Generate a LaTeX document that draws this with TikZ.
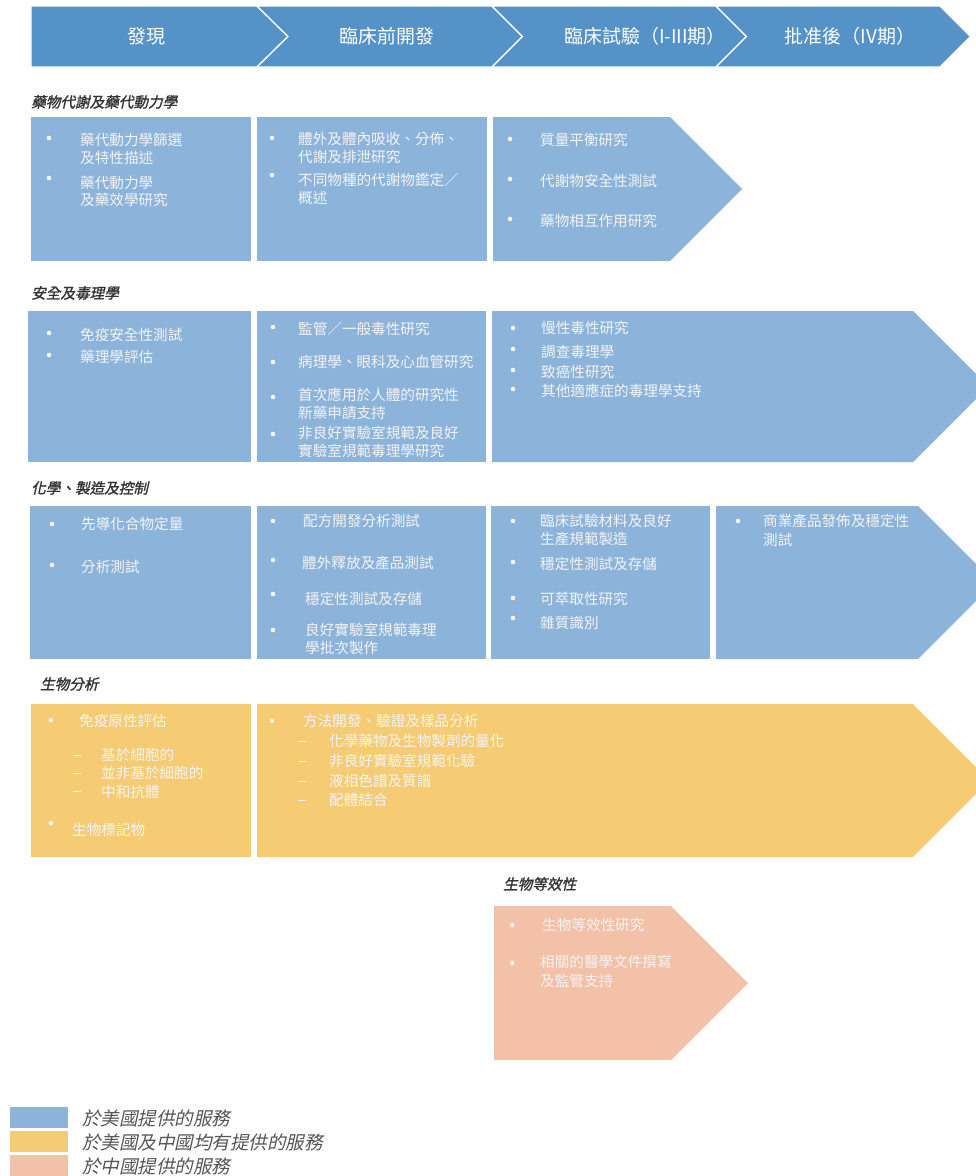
\documentclass[tikz,border=0pt]{standalone}
\usepackage{fontspec}
\newfontfamily\cjk{Noto Sans CJK TC}
\newfontfamily\cjkbi[FakeBold=1.4,FakeSlant=0.22]{Noto Sans CJK TC}
\newfontfamily\cjki[FakeSlant=0.22]{Noto Sans CJK TC}
\definecolor{hdrblue}{HTML}{5592C7}
\definecolor{boxblue}{HTML}{8CB4DA}
\definecolor{boxyel}{HTML}{F5CC73}
\definecolor{boxpink}{HTML}{F3C1A7}
\definecolor{txtw}{HTML}{F4F4F4}
\definecolor{ttl}{HTML}{333333}
\definecolor{lgd}{HTML}{555555}
\tikzset{
 hdr/.style={fill=hdrblue, draw=white, line width=1.3pt, line join=miter},
 txt/.style={inner sep=0pt, anchor=west, text=txtw, font=\cjk\fontsize{14.6}{16}\selectfont},
 htxt/.style={inner sep=0pt, text=white, font=\cjk\fontsize{19}{21}\selectfont},
 ttltxt/.style={inner sep=0pt, anchor=west, text=ttl, font=\cjkbi\fontsize{14.6}{16}\selectfont},
 lgdtxt/.style={inner sep=0pt, anchor=west, text=lgd, font=\cjki\fontsize{18.5}{20}\selectfont},
}
\newcommand\bul[2]{\fill[txtw] (#1,#2) circle (2.3);}
\newcommand\dsh[2]{\draw[txtw, line width=0.8pt] (#1-4,#2) -- (#1+4,#2);}
\newcommand\tl[4]{\node[txt] (#1) at (#2,#3) {#4};}
\begin{document}
\begin{tikzpicture}[x=1pt,y=-1pt]
\useasboundingbox (0,0) rectangle (976,1176);
\begin{scope}
\clip (0,0) rectangle (976,1176);
% header
\filldraw[hdr] (31,6) -- (257,6) -- (288,36.5) -- (257,67) -- (31,67) -- cycle;
\filldraw[hdr] (257,6) -- (492,6) -- (522.5,36.5) -- (492,67) -- (257,67) -- (288,36.5) -- cycle;
\filldraw[hdr] (492,6) -- (716,6) -- (746.5,36.5) -- (716,67) -- (492,67) -- (522.5,36.5) -- cycle;
\filldraw[hdr] (716,6) -- (940,6) -- (970.5,36.5) -- (940,67) -- (716,67) -- (746.5,36.5) -- cycle;
\node[htxt] (h1) at (146,36.5) {發現};
\node[htxt] (h2) at (387,36.5) {臨床前開發};
\node[htxt] (h3) at (645,36.5) {臨床試驗（I-III期）};
\node[htxt] (h4) at (850,36.5) {批准後（IV期）};

% section titles
\node[ttltxt] (s1) at (31,102) {藥物代謝及藥代動力學};
\node[ttltxt] (s2) at (31,293) {安全及毒理學};
\node[ttltxt] (s3) at (31,488) {化學、製造及控制};
\node[ttltxt] (s4) at (40,684) {生物分析};
\node[ttltxt] (s5) at (503,884) {生物等效性};

% row 1
\fill[boxblue] (31,117) rectangle (251,261);
\fill[boxblue] (257,117) rectangle (487,261);
\fill[boxblue] (493,117) -- (670,117) -- (742,189) -- (670,261) -- (493,261) -- cycle;
\bul{49}{138}\tl{a1}{80}{140}{藥代動力學篩選}\tl{a2}{80}{158}{及特性描述}
\bul{49}{178}\tl{a3}{80}{183}{藥代動力學}\tl{a4}{80}{200}{及藥效學研究}
\bul{272}{138}\tl{b1}{298}{139}{體外及體內吸收、分佈、}\tl{b2}{298}{157}{代謝及排泄研究}
\bul{272}{175}\tl{b3}{298}{180}{不同物種的代謝物鑑定／}\tl{b4}{298}{198}{概述}
\bul{510}{139}\tl{c1}{540}{140}{質量平衡研究}
\bul{510}{179}\tl{c2}{540}{181}{代謝物安全性測試}
\bul{510}{219}\tl{c3}{540}{221}{藥物相互作用研究}

% row 2
\fill[boxblue] (28,311) rectangle (251,462);
\fill[boxblue] (257,311) rectangle (486,462);
\fill[boxblue] (492,311) -- (913,311) -- (988.5,386.5) -- (913,462) -- (492,462) -- cycle;
\bul{49}{333}\tl{d1}{80}{335}{免疫安全性測試}
\bul{49}{355}\tl{d2}{80}{357}{藥理學評估}
\bul{273}{327}\tl{e1}{298}{329}{監管／一般毒性研究}
\bul{273}{362}\tl{e2}{298}{362}{病理學、眼科及心血管研究}
\bul{273}{397}\tl{e3}{298}{395}{首次應用於人體的研究性}\tl{e4}{298}{413}{新藥申請支持}
\bul{273}{434}\tl{e5}{298}{433}{非良好實驗室規範及良好}\tl{e6}{298}{451}{實驗室規範毒理學研究}
\bul{513}{328}\tl{f1}{541}{328}{慢性毒性研究}
\bul{513}{349}\tl{f2}{541}{352}{調查毒理學}
\bul{513}{370}\tl{f3}{541}{372}{致癌性研究}
\bul{513}{389}\tl{f4}{541}{391}{其他適應症的毒理學支持}

% row 3
\fill[boxblue] (30,506) rectangle (251,659);
\fill[boxblue] (257,506) rectangle (486,659);
\fill[boxblue] (491,506) rectangle (710,659);
\fill[boxblue] (716,506) -- (918,506) -- (994.5,582.5) -- (918,659) -- (716,659) -- cycle;
\bul{52}{524}\tl{g1}{81}{524}{先導化合物定量}
\bul{52}{565}\tl{g2}{81}{567}{分析測試}
\bul{273}{521}\tl{i1}{303}{521}{配方開發分析測試}
\bul{273}{560}\tl{i2}{302}{563}{體外釋放及產品測試}
\bul{273}{594}\tl{i3}{305}{599}{穩定性測試及存儲}
\bul{273}{630}\tl{i4}{305}{630}{良好實驗室規範毒理}\tl{i5}{305}{648}{學批次製作}
\bul{513}{521}\tl{j1}{540}{521}{臨床試驗材料及良好}\tl{j2}{540}{539}{生產規範製造}
\bul{513}{562}\tl{j3}{540}{564}{穩定性測試及存儲}
\bul{513}{598}\tl{j4}{540}{599}{可萃取性研究}
\bul{513}{618}\tl{j5}{540}{623}{雜質識別}
\bul{738}{521}\tl{k1}{763}{521}{商業產品發佈及穩定性}\tl{k2}{763}{540}{測試}

% row 4
\fill[boxyel] (31,704) rectangle (251,857);
\fill[boxyel] (257,704) -- (913,704) -- (989.5,780.5) -- (913,857) -- (257,857) -- cycle;
\bul{51}{720}\tl{m1}{79}{721}{免疫原性評估}
\dsh{77}{755}\tl{m2}{101}{755}{基於細胞的}
\dsh{77}{773}\tl{m3}{101}{773}{並非基於細胞的}
\dsh{77}{791}\tl{m4}{101}{792}{中和抗體}
\bul{51}{823}\tl{m5}{72}{830}{生物標記物}
\bul{272}{721}\tl{n1}{303}{721}{方法開發、驗證及樣品分析}
\dsh{302}{741}\tl{n2}{329}{741}{化學藥物及生物製劑的量化}
\dsh{302}{761}\tl{n3}{329}{761}{非良好實驗室規範化驗}
\dsh{302}{781}\tl{n4}{329}{781}{液相色譜及質譜}
\dsh{302}{800}\tl{n5}{329}{800}{配體結合}

% row 5
\fill[boxpink] (494,906) -- (671,906) -- (748,983) -- (671,1060) -- (494,1060) -- cycle;
\bul{512}{925}\tl{p1}{542}{925}{生物等效性研究}
\bul{512}{963}\tl{p2}{540}{962}{相關的醫學文件撰寫}\tl{p3}{540}{981}{及監管支持}

% legend
\fill[boxblue] (10,1107) rectangle (68,1128);
\fill[boxyel] (10,1131) rectangle (68,1152);
\fill[boxpink] (10,1155) rectangle (68,1176);
\node[lgdtxt] (l1) at (82,1118) {於美國提供的服務};
\node[lgdtxt] (l2) at (82,1142) {於美國及中國均有提供的服務};
\node[lgdtxt] (l3) at (82,1166) {於中國提供的服務};
\end{scope}
\end{tikzpicture}
\end{document}
